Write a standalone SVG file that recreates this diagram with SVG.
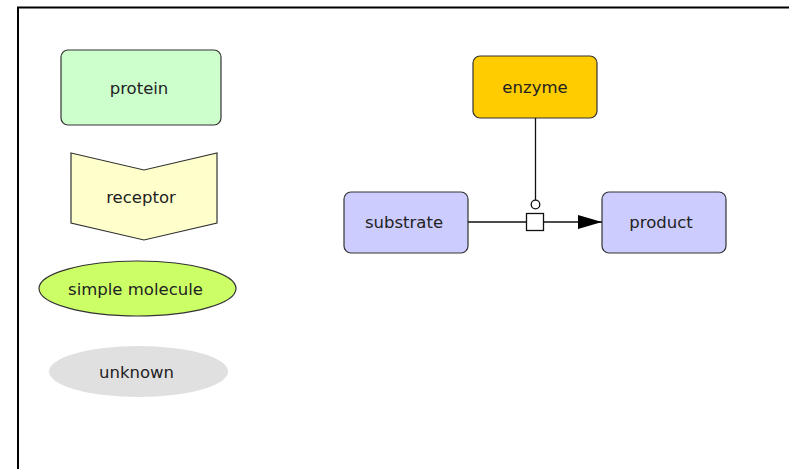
<svg xmlns="http://www.w3.org/2000/svg" width="789" height="469" viewBox="0 0 789 469">
<style>
.lbl{font-family:"DejaVu Sans","Liberation Sans",sans-serif;font-size:16.5px;fill:#222;text-anchor:middle;dominant-baseline:central}
.nd{stroke:#333;stroke-width:1.2}
.ln{stroke:#111;stroke-width:1.3;fill:none}
</style>
<defs>
<marker id="arr" viewBox="0 0 24 14" refX="24" refY="7" markerWidth="24" markerHeight="14" markerUnits="userSpaceOnUse" orient="auto">
<path d="M0,0 L24,7 L0,14 Z" fill="#000"/>
</marker>
</defs>
<rect width="789" height="469" fill="#fff"/>
<path d="M18,469 L18,7.5 L789,7.5" fill="none" stroke="#000" stroke-width="2"/>
<g id="protein">
<rect class="nd" x="61" y="50" width="160" height="75" rx="7" fill="#ccffcc"/>
<text class="lbl" x="139" y="88">protein</text>
</g>
<g id="receptor">
<path class="nd" d="M71,153 L144,170 L217,153 L217,223 L144,240 L71,223 Z" fill="#ffffcc"/>
<text class="lbl" x="141" y="197">receptor</text>
</g>
<g id="simple-molecule">
<ellipse class="nd" cx="137.5" cy="288.5" rx="98.5" ry="27.5" fill="#ccff66"/>
<text class="lbl" x="135.5" y="289">simple molecule</text>
</g>
<g id="unknown">
<ellipse cx="138.5" cy="371.5" rx="89.5" ry="25.5" fill="#e0e0e0"/>
<text class="lbl" x="136.5" y="372">unknown</text>
</g>
<g id="enzyme">
<rect class="nd" x="473" y="56" width="124" height="62" rx="7" fill="#ffcc00"/>
<text class="lbl" x="535" y="87">enzyme</text>
</g>
<g id="substrate">
<rect class="nd" x="344" y="192" width="124" height="61" rx="7" fill="#ccccff"/>
<text class="lbl" x="404" y="222.5">substrate</text>
</g>
<g id="product">
<rect class="nd" x="602" y="192" width="124" height="61" rx="7" fill="#ccccff"/>
<text class="lbl" x="661" y="222.5">product</text>
</g>
<g id="connectors">
<line class="ln" x1="468" y1="222" x2="526" y2="222"/>
<line class="ln" x1="543" y1="222" x2="602" y2="222" marker-end="url(#arr)"/>
<line class="ln" x1="535.5" y1="118" x2="535.5" y2="200"/>
<circle class="ln" cx="535.5" cy="204.5" r="4.3" fill="#fff"/>
<rect class="ln" x="526.5" y="213.5" width="17" height="17" fill="#fff"/>
</g>
</svg>
